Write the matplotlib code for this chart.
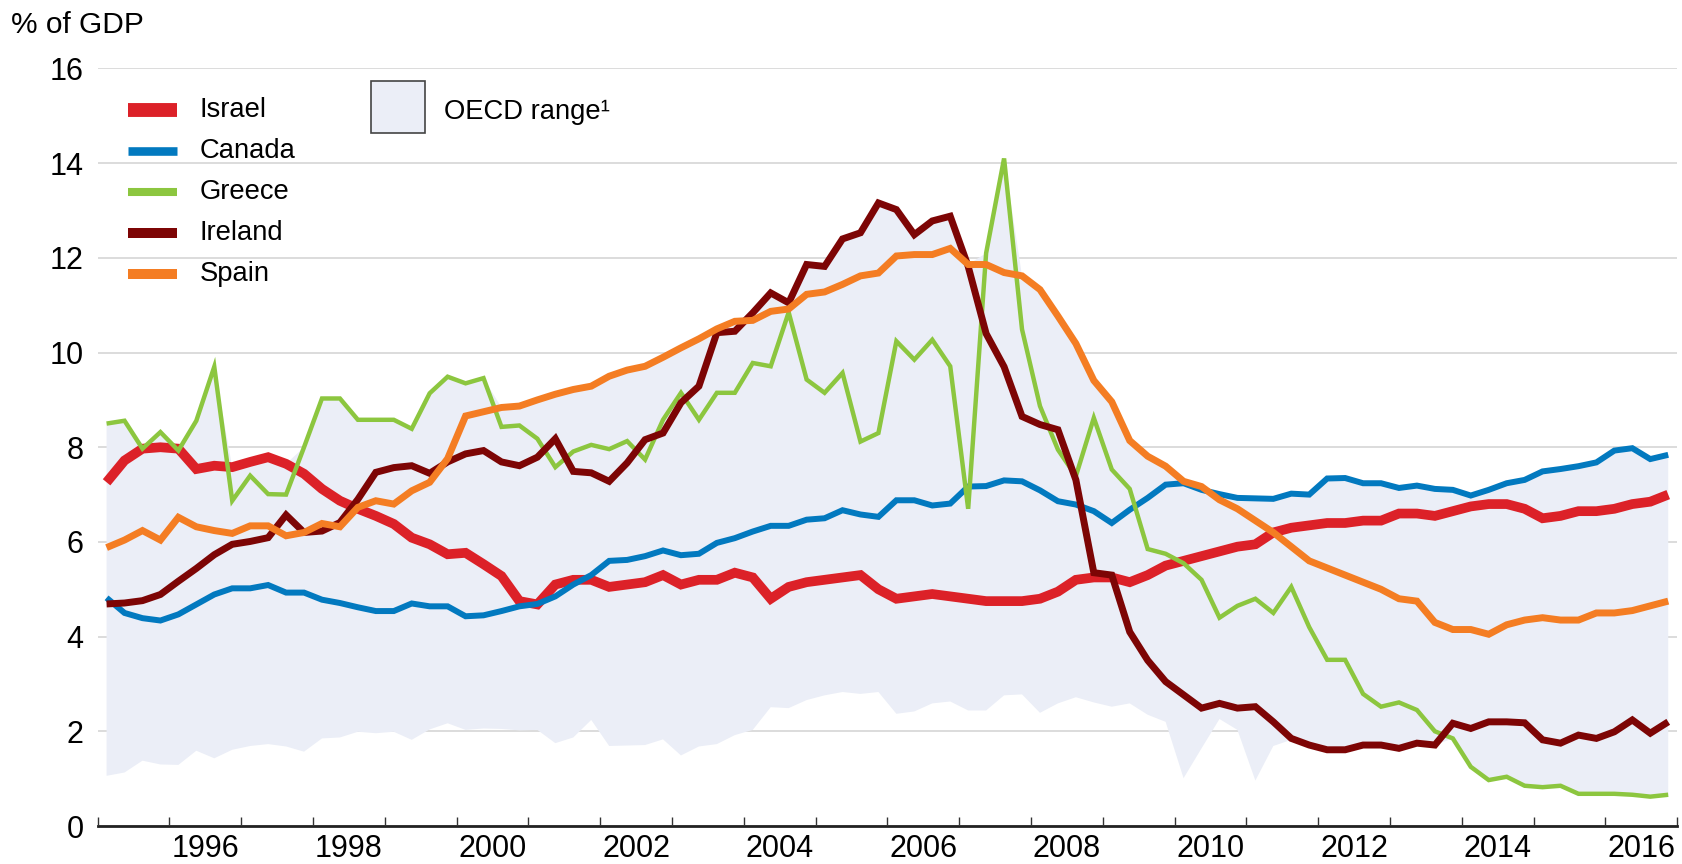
import numpy as np
import matplotlib
matplotlib.use("Agg")
import matplotlib.pyplot as plt
from matplotlib import font_manager
from matplotlib.lines import Line2D
from matplotlib.patches import Rectangle

# font: narrow sans if installed
try:
    font_manager.findfont(font_manager.FontProperties(family="Liberation Sans Narrow"),
                          fallback_to_default=False)
    FAM = "Liberation Sans Narrow"
except Exception:
    FAM = "Liberation Sans"
plt.rcParams["font.family"] = [FAM, "DejaVu Sans"]

#--------------------------------------
# quarterly data, 1995Q1 .. 2016Q4, % of GDP
israel = [7.26, 7.72, 7.97, 8.00, 7.97, 7.54, 7.61, 7.58, 7.69, 7.79, 7.65, 7.44,
          7.12, 6.87, 6.70, 6.55, 6.38, 6.09, 5.95, 5.74, 5.77, 5.53, 5.28, 4.75,
          4.68, 5.10, 5.20, 5.20, 5.05, 5.10, 5.15, 5.30, 5.10, 5.20, 5.20, 5.35,
          5.25, 4.80, 5.05, 5.15, 5.20, 5.25, 5.30, 5.00, 4.80, 4.85, 4.90, 4.85,
          4.80, 4.75, 4.75, 4.75, 4.80, 4.95, 5.20, 5.25, 5.25, 5.15, 5.30, 5.50,
          5.60, 5.70, 5.80, 5.90, 5.95, 6.20, 6.30, 6.35, 6.40, 6.40, 6.45, 6.45,
          6.60, 6.60, 6.55, 6.65, 6.75, 6.80, 6.80, 6.70, 6.50, 6.55, 6.65, 6.65,
          6.70, 6.80, 6.85, 7.00]
canada = [4.82, 4.50, 4.39, 4.34, 4.47, 4.68, 4.89, 5.02, 5.02, 5.09, 4.93, 4.93,
          4.78, 4.71, 4.62, 4.54, 4.54, 4.70, 4.64, 4.64, 4.43, 4.45, 4.54, 4.64,
          4.69, 4.85, 5.10, 5.30, 5.60, 5.62, 5.70, 5.82, 5.72, 5.75, 5.98, 6.08,
          6.22, 6.34, 6.34, 6.47, 6.50, 6.67, 6.58, 6.53, 6.88, 6.88, 6.77, 6.81,
          7.17, 7.18, 7.30, 7.28, 7.09, 6.86, 6.79, 6.65, 6.40, 6.68, 6.93, 7.21,
          7.24, 7.10, 7.01, 6.93, 6.92, 6.91, 7.02, 7.00, 7.34, 7.35, 7.24, 7.24,
          7.14, 7.19, 7.12, 7.10, 6.98, 7.10, 7.24, 7.31, 7.49, 7.54, 7.60, 7.68,
          7.93, 7.98, 7.75, 7.84]
greece = [8.50, 8.56, 7.97, 8.32, 7.93, 8.56, 9.70, 6.87, 7.40, 7.01, 7.00, 8.00,
          9.03, 9.03, 8.58, 8.58, 8.58, 8.39, 9.14, 9.49, 9.35, 9.46, 8.43, 8.46,
          8.18, 7.58, 7.91, 8.05, 7.96, 8.13, 7.74, 8.58, 9.15, 8.58, 9.15, 9.15,
          9.78, 9.71, 10.85, 9.43, 9.15, 9.57, 8.12, 8.30, 10.24, 9.85, 10.27, 9.71,
          6.70, 12.10, 14.10, 10.49, 8.87, 7.95, 7.39, 8.62, 7.53, 7.12, 5.85, 5.75,
          5.55, 5.20, 4.40, 4.65, 4.80, 4.50, 5.05, 4.20, 3.51, 3.51, 2.79, 2.52,
          2.61, 2.45, 2.00, 1.85, 1.25, 0.97, 1.04, 0.85, 0.82, 0.85, 0.68, 0.68,
          0.68, 0.66, 0.62, 0.66]
ireland = [4.69, 4.71, 4.76, 4.89, 5.17, 5.44, 5.73, 5.95, 6.01, 6.09, 6.57, 6.20,
           6.23, 6.41, 6.90, 7.47, 7.57, 7.61, 7.45, 7.69, 7.86, 7.93, 7.69, 7.61,
           7.79, 8.18, 7.49, 7.46, 7.28, 7.67, 8.16, 8.30, 8.94, 9.29, 10.42, 10.45,
           10.84, 11.26, 11.05, 11.86, 11.82, 12.40, 12.53, 13.16, 13.02, 12.49, 12.78, 12.88,
           11.82, 10.40, 9.70, 8.65, 8.48, 8.37, 7.31, 5.35, 5.30, 4.10, 3.50, 3.05,
           2.77, 2.49, 2.59, 2.49, 2.52, 2.20, 1.85, 1.71, 1.61, 1.61, 1.71, 1.71,
           1.64, 1.75, 1.71, 2.17, 2.06, 2.20, 2.20, 2.18, 1.82, 1.75, 1.92, 1.85,
           1.99, 2.24, 1.96, 2.20]
spain = [5.88, 6.04, 6.24, 6.04, 6.52, 6.32, 6.24, 6.18, 6.34, 6.34, 6.13, 6.20,
         6.39, 6.32, 6.73, 6.87, 6.80, 7.08, 7.26, 7.76, 8.66, 8.75, 8.84, 8.87,
         9.00, 9.12, 9.22, 9.29, 9.50, 9.63, 9.71, 9.90, 10.10, 10.29, 10.50, 10.66,
         10.68, 10.87, 10.92, 11.23, 11.28, 11.44, 11.62, 11.68, 12.04, 12.07, 12.07, 12.20,
         11.86, 11.86, 11.69, 11.62, 11.33, 10.77, 10.19, 9.41, 8.96, 8.14, 7.81, 7.60,
         7.28, 7.17, 6.89, 6.70, 6.45, 6.20, 5.90, 5.60, 5.45, 5.30, 5.15, 5.00,
         4.80, 4.75, 4.30, 4.15, 4.15, 4.05, 4.25, 4.35, 4.40, 4.35, 4.35, 4.50,
         4.50, 4.55, 4.65, 4.75]
# OECD minimum
oecd_low = [1.06, 1.13, 1.38, 1.30, 1.29, 1.59, 1.43, 1.61, 1.69, 1.73, 1.68, 1.57,
            1.85, 1.87, 1.99, 1.96, 1.99, 1.82, 2.04, 2.17, 2.03, 2.06, 2.05, 2.02,
            2.03, 1.75, 1.87, 2.24, 1.69, 1.70, 1.71, 1.83, 1.49, 1.68, 1.73, 1.92,
            2.03, 2.51, 2.49, 2.66, 2.76, 2.83, 2.79, 2.83, 2.37, 2.42, 2.59, 2.63,
            2.44, 2.44, 2.76, 2.78, 2.39, 2.59, 2.72, 2.61, 2.52, 2.59, 2.35, 2.20,
            1.01, 1.64, 2.26, 2.03, 0.96, 1.69, 1.82, 1.71, 1.61, 1.61, 1.71, 1.71,
            1.64, 1.75, 1.71, 1.85, 1.25, 0.97, 1.04, 0.85, 0.82, 0.85, 0.68, 0.68,
            0.68, 0.66, 0.62, 0.66]
# OECD maximum: in this period it is always one of the five countries shown
oecd_high = np.maximum.reduce([israel, canada, greece, ireland, spain])

names  = ["Israel", "Canada", "Greece", "Ireland", "Spain"]
series = [israel, canada, greece, ireland, spain]
colors = ["#DC2128", "#0279BF", "#8CC63F", "#7D0505", "#F47D23"]
lws    = [7.0, 4.3, 3.2, 5.0, 5.0]
leg_lw = [10.0, 6.2, 5.8, 7.2, 7.2]
zords  = [3, 4, 5, 6, 7]

t = 1995.125 + 0.25*np.arange(len(israel))

#--------------------------------------
W, H = 1683, 864
fig = plt.figure(figsize=(W/100, H/100), dpi=100)
x0, x1, ytop, ybot = 97.6, 1677.2, 68.5, 826.0
ax = fig.add_axes([x0/W, 1-ybot/H, (x1-x0)/W, (ybot-ytop)/H])

def fx(px): return px/W
def fy(py): return 1-py/H

ax.fill_between(t, oecd_low, oecd_high, facecolor="#EBEEF7", edgecolor="none", zorder=1)
for s, c, lw, z in zip(series, colors, lws, zords):
    ax.plot(t, s, color=c, lw=lw, zorder=z, solid_joinstyle="miter", solid_capstyle="butt")

ax.set_xlim(1995, 2017)
ax.set_ylim(0, 16)
ax.set_yticks(np.arange(0, 17, 2))
ax.set_yticklabels([str(v) for v in range(0, 17, 2)])
ax.set_xticks(np.arange(1995, 2018))
ax.set_xticklabels([])
ax.set_xticks(np.arange(1996, 2017, 2)+0.5, minor=True)
ax.set_xticklabels([str(y) for y in range(1996, 2017, 2)], minor=True)

ax.set_axisbelow(True)
ax.yaxis.grid(True, color="#D9D9D9", lw=1.3)
for sp in ["left", "right", "top"]:
    ax.spines[sp].set_visible(False)
ax.spines["bottom"].set_linewidth(2.0)
ax.spines["bottom"].set_color("#222222")
ax.spines["bottom"].set_zorder(10)
ax.tick_params(axis="y", length=0, pad=10, labelsize=22)
ax.tick_params(axis="x", which="major", direction="in", length=6.5, width=1.0, color="#333333")
ax.tick_params(axis="x", which="minor", length=0, pad=6, labelsize=22)

fig.text(fx(11), fy(33), "% of GDP", fontsize=21.5, ha="left", va="baseline")

# legend
rows = [110, 151, 192, 233, 274]
for n, c, lw, r in zip(names, colors, leg_lw, rows):
    fig.add_artist(Line2D([fx(128), fx(177)], [fy(r), fy(r)], color=c, lw=lw,
                          solid_capstyle="butt", transform=fig.transFigure))
    fig.text(fx(200), fy(r), n, fontsize=19.7, ha="left", va="center")
fig.add_artist(Rectangle((fx(371), fy(133)), fx(425)-fx(371), fy(81)-fy(133),
                         facecolor="#EBEEF7", edgecolor="#444444", lw=1.2,
                         transform=fig.transFigure))
fig.text(fx(444), fy(112), "OECD range\u00b9", fontsize=19.7, ha="left", va="center")

fig.savefig("out.png", dpi=100)
